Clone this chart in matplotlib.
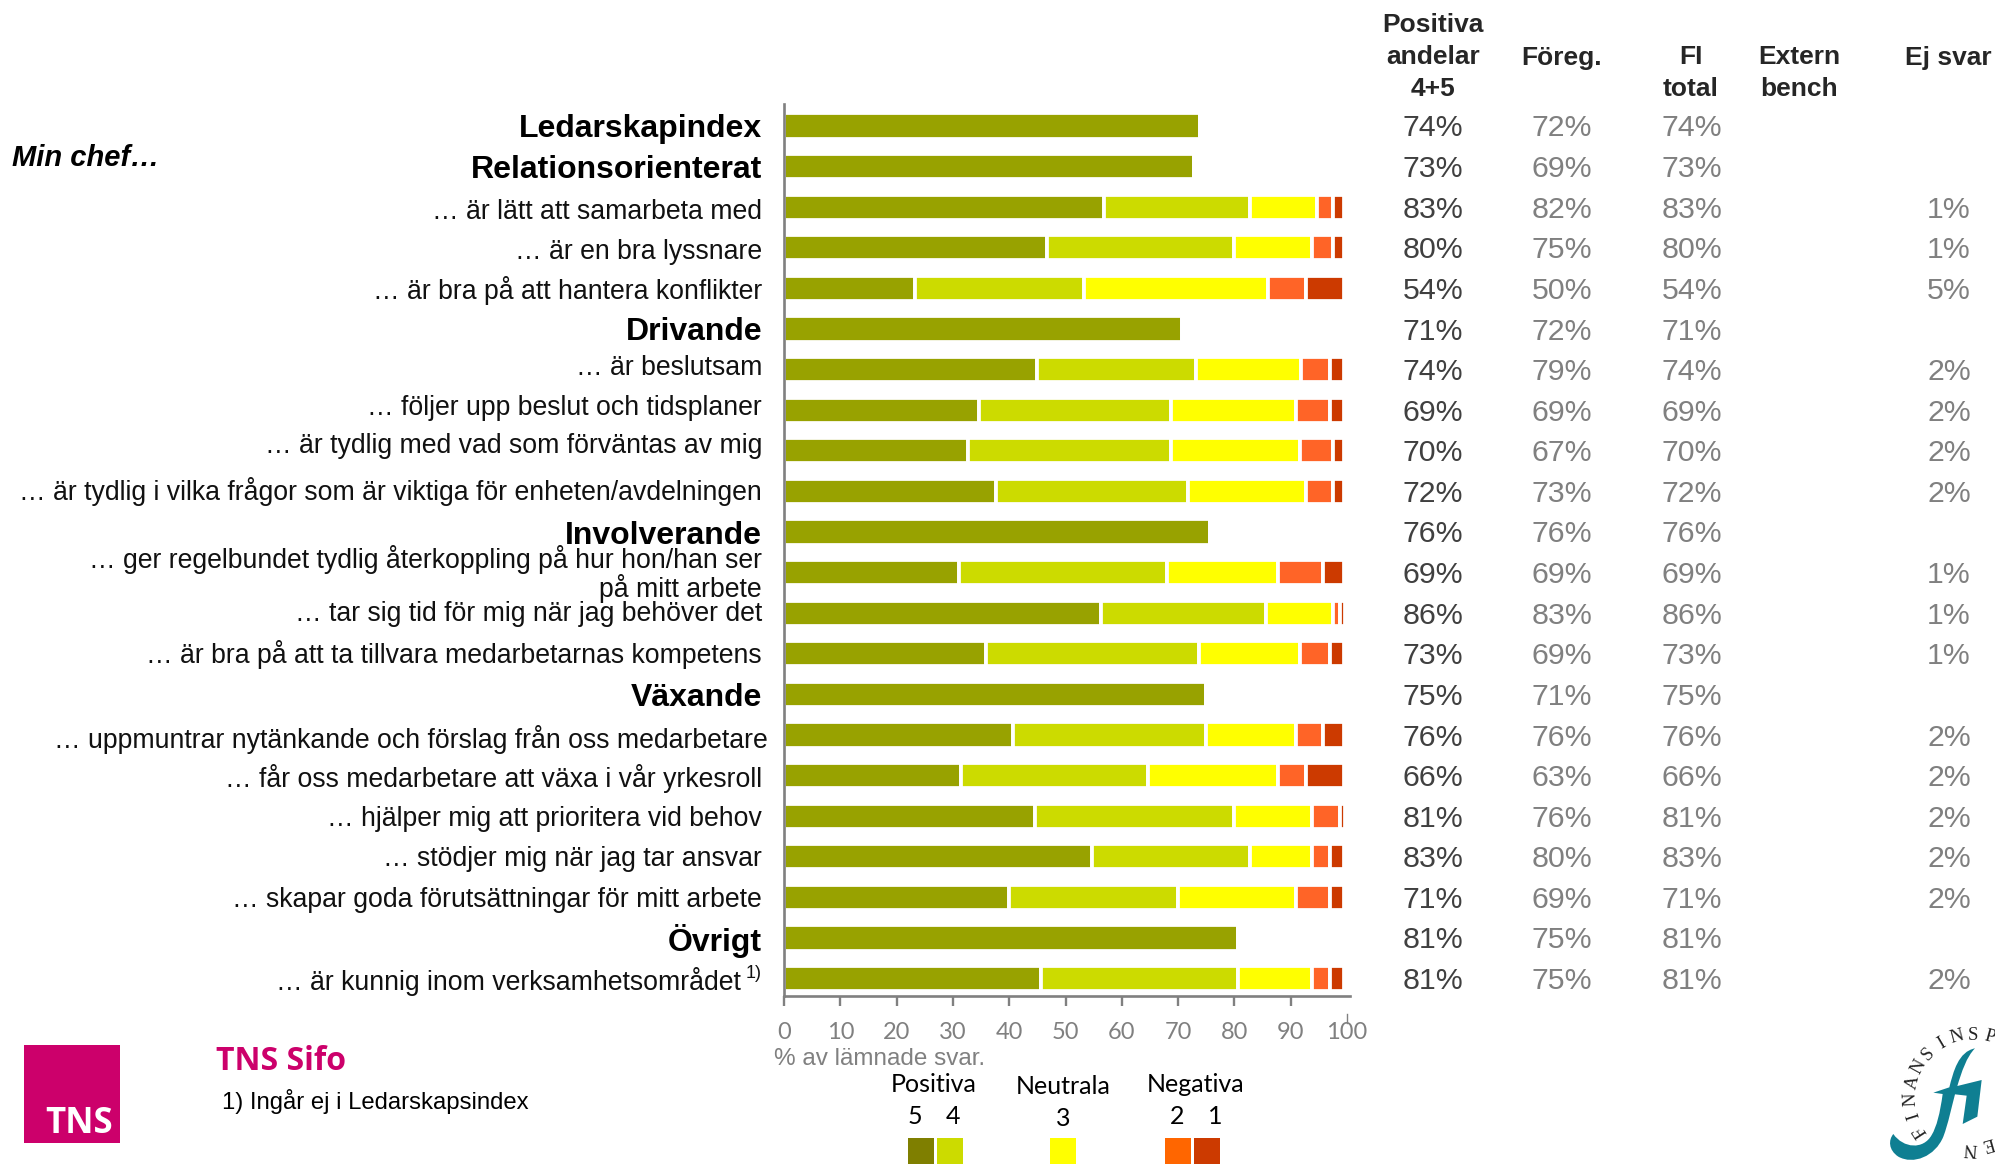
import matplotlib
matplotlib.use('Agg')
import matplotlib.pyplot as plt
import numpy as np
from matplotlib.patches import Rectangle, PathPatch
from matplotlib.path import Path

plt.rcParams['font.family'] = ['Liberation Sans', 'DejaVu Sans']

# rows, top to bottom
labels = ['Ledarskapindex', 'Relationsorienterat', '… är lätt att samarbeta med', '… är en bra lyssnare',
          '… är bra på att hantera konflikter', 'Drivande', '… är beslutsam', '… följer upp beslut och tidsplaner',
          '… är tydlig med vad som förväntas av mig', '… är tydlig i vilka frågor som är viktiga för enheten/avdelningen',
          'Involverande', '… ger regelbundet tydlig återkoppling på hur hon/han ser\npå mitt arbete',
          '… tar sig tid för mig när jag behöver det', '… är bra på att ta tillvara medarbetarnas kompetens',
          'Växande', '… uppmuntrar nytänkande och förslag från oss medarbetare',
          '… får oss medarbetare att växa i vår yrkesroll', '… hjälper mig att prioritera vid behov',
          '… stödjer mig när jag tar ansvar', '… skapar goda förutsättningar för mitt arbete',
          'Övrigt', '… är kunnig inom verksamhetsområdet']
headers = [0, 1, 5, 10, 14, 20]

s5 = [73.9, 72.8, 56.8, 46.8, 23.3, 70.7, 45.0, 34.7, 32.6, 37.6, 75.6, 31.1, 56.3, 35.8, 74.9, 40.7, 31.5, 44.6, 54.7, 40.0, 80.6, 45.7]
s4 = [0, 0, 25.9, 33.1, 29.9, 0, 28.1, 34.1, 36.2, 34.1, 0, 37.0, 29.3, 38.0, 0, 34.2, 33.1, 35.3, 28.0, 29.9, 0, 34.9]
s3 = [0, 0, 12.0, 13.8, 32.7, 0, 18.8, 22.1, 22.8, 21.0, 0, 19.6, 12.0, 17.8, 0, 16.0, 23.1, 13.8, 11.0, 21.0, 0, 13.1]
s2 = [0, 0, 2.9, 3.9, 6.8, 0, 5.0, 6.0, 6.0, 4.9, 0, 8.1, 1.1, 5.3, 0, 4.9, 5.0, 5.0, 3.2, 6.0, 0, 3.2]
s1 = [0, 0, 1.9, 1.9, 6.8, 0, 2.6, 2.6, 1.9, 1.9, 0, 3.7, 0.9, 2.6, 0, 3.7, 6.8, 0.9, 2.6, 2.6, 0, 2.6]

positiva = ['74%', '73%', '83%', '80%', '54%', '71%', '74%', '69%', '70%', '72%', '76%', '69%', '86%', '73%', '75%', '76%', '66%', '81%', '83%', '71%', '81%', '81%']
foreg = ['72%', '69%', '82%', '75%', '50%', '72%', '79%', '69%', '67%', '73%', '76%', '69%', '83%', '69%', '71%', '76%', '63%', '76%', '80%', '69%', '75%', '75%']
fi_total = ['74%', '73%', '83%', '80%', '54%', '71%', '74%', '69%', '70%', '72%', '76%', '69%', '86%', '73%', '75%', '76%', '66%', '81%', '83%', '71%', '81%', '81%']
ej_svar = ['', '', '1%', '1%', '5%', '', '2%', '2%', '2%', '2%', '', '1%', '1%', '1%', '', '2%', '2%', '2%', '2%', '2%', '', '2%']

colors = ['#98a200', '#ccdb00', '#ffff00', '#ff6427', '#cc3a00']
legend_colors = ['#7f7f00', '#ccdb00', '#ffff00', '#ff6600', '#cc3a00']
GRAY = '#808080'

W, H = 1995, 1164
fig = plt.figure(figsize=(W / 100, H / 100), dpi=100)

# overlay in pixel coordinates for all the text around the chart
ov = fig.add_axes([0, 0, 1, 1])
ov.set_xlim(0, W)
ov.set_ylim(H, 0)
ov.axis('off')

# chart axes
x0, x1 = 784, 1350
top, bottom = 104, 996
row0, step = 126, 40.6
ax = fig.add_axes([x0 / W, 1 - bottom / H, (x1 - x0) / W, (bottom - top) / H])
ax.patch.set_alpha(0)
ax.set_xlim(0, 100 * (x1 - x0) / (1347 - x0))
ax.set_ylim((bottom - row0) / step, (top - row0) / step)

y = np.arange(len(labels))
left = np.zeros(len(labels))
for vals, c in zip([s5, s4, s3, s2, s1], colors):
    vals = np.array(vals)
    ax.barh(y, vals, left=left, height=0.62, color=c, edgecolor='white', linewidth=2.7)
    left += vals

for side in ['top', 'right']:
    ax.spines[side].set_visible(False)
for side in ['left', 'bottom']:
    ax.spines[side].set_color(GRAY)
    ax.spines[side].set_linewidth(1.9)
    ax.spines[side].set_zorder(5)
ax.set_yticks([])
ax.set_xticks(range(0, 101, 10))
ax.tick_params(axis='x', length=7.5, width=1.7, color=GRAY, labelcolor=GRAY, labelsize=17, pad=11)
for t in ax.get_xticklabels():
    t.set_family('Lato')
ax.xaxis.get_major_ticks()[-1].tick1line.set_visible(False)
ov.plot([1347, 1347], [1014, 1023], color=GRAY, lw=1)

ov.text(774, 1059, '% av lämnade svar.', color=GRAY, fontsize=17.5, ha='left', va='center')

# row labels
label_nudge = [1, 1, 3, 3, 1, 1, -3, -4, -6, -1, 1, 0, -1, -1, 1, 3, 1, 1, 1, 1, 1, 1]
for i, lab in enumerate(labels):
    yy = row0 + step * i + label_nudge[i]
    xr = 768 if i == 15 else 762
    if i == 21:
        xr = 741
    if i in headers:
        ov.text(xr, yy + 2.5, lab, ha='right', va='center', fontsize=23, fontweight='bold', color='black')
    else:
        ov.text(xr, yy + 1.5, lab, ha='right', va='center', fontsize=19.2, color='#111111', multialignment='right', linespacing=1.0)
ov.text(746, row0 + step * 21 - 5, '1)', ha='left', va='center', fontsize=13, color='#111111')
ov.text(12, 158, 'Min chef…', ha='left', va='center', fontsize=21, fontweight='bold', fontstyle='italic')

# table
col_x = [1433, 1562, 1692, 1949]
for i in range(len(labels)):
    yy = row0 + step * i + 2.5
    ov.text(col_x[0], yy, positiva[i], ha='center', va='center', fontsize=21.8, color='#404040')
    ov.text(col_x[1], yy, foreg[i], ha='center', va='center', fontsize=21.8, color=GRAY)
    ov.text(col_x[2], yy, fi_total[i], ha='center', va='center', fontsize=21.8, color=GRAY)
    ov.text(col_x[3], yy, ej_svar[i], ha='center', va='center', fontsize=21.8, color=GRAY)

head_kw = dict(ha='center', va='center', fontsize=19, fontweight='bold', color='#262626')
for txt, yy in zip(['Positiva', 'andelar', '4+5'], [25.5, 57.5, 89.5]):
    ov.text(1433, yy, txt, **head_kw)
ov.text(1562, 57.5, 'Föreg.', **head_kw)
ov.text(1691, 57.5, 'FI', **head_kw)
ov.text(1691, 89.5, 'total', **head_kw)
ov.text(1799, 57.5, 'Extern', **head_kw)
ov.text(1799, 89.5, 'bench', **head_kw)
ov.text(1948, 57.5, 'Ej svar', **head_kw)

# colour key
key_kw = dict(ha='center', va='center', fontsize=18, family='Lato', color='black')
ov.text(934, 1085, 'Positiva', **key_kw)
ov.text(1063, 1087, 'Neutrala', **key_kw)
ov.text(1196, 1085, 'Negativa', **key_kw)
for txt, xx, yy in zip(['5', '4', '3', '2', '1'], [915, 953, 1063, 1177, 1215], [1117, 1117, 1118, 1117, 1117]):
    ov.text(xx, yy, txt, **key_kw)
for c, xx in zip(legend_colors, [908, 937, 1050, 1165, 1194]):
    ov.add_patch(Rectangle((xx, 1138), 26, 26, color=c, lw=0))

# TNS logo
MAGENTA = '#cc006b'
ov.add_patch(Rectangle((24, 1045), 95.5, 98, color=MAGENTA, lw=0))
ov.text(113, 1124, 'TNS', color='white', ha='right', va='center', fontsize=25, family='Open Sans', fontweight='bold')
ov.text(216, 1061, 'TNS Sifo', color=MAGENTA, ha='left', va='center', fontsize=23, family='Open Sans', fontweight='bold')
ov.text(222, 1102, '1) Ingår ej i Ledarskapsindex', ha='left', va='center', fontsize=17.2, color='black')

# Finansinspektionen logo
cx, cy, r = 1973, 1097, 62
fi_letters = list('FINANSINSP')
fi_angles = [237, 252.4, 267.8, 283.2, 298.6, 314, 329.4, 344.8, 360, 15.4]
for ch, ang in zip(fi_letters, fi_angles):
    a = np.radians(ang)
    ov.text(cx + r * np.sin(a), cy - r * np.cos(a), ch, rotation=-ang, rotation_mode='anchor',
            ha='center', va='center', fontsize=13.5, family='Liberation Serif', color='#222222')
ov.text(1988, 1143, 'E', rotation=-164, rotation_mode='anchor', ha='center', va='center',
        fontsize=13.5, family='Liberation Serif', color='#222222')
ov.text(1970, 1148, 'N', rotation=-184, rotation_mode='anchor', ha='center', va='center',
        fontsize=13.5, family='Liberation Serif', color='#222222')

pts = [(405, 145), (355, 155), (340, 215), (328, 262), (280, 278), (308, 282),
       (300, 340), (290, 380), (275, 405), (250, 450), (190, 445), (160, 402),
       (145, 420), (145, 450), (175, 470), (220, 495), (285, 470), (310, 410),
       (325, 370), (335, 320), (345, 283), (380, 287), (368, 372), (412, 350),
       (425, 240), (352, 258), (365, 215), (380, 170), (405, 145), (405, 145)]
codes = [Path.MOVETO, Path.CURVE4, Path.CURVE4, Path.CURVE4, Path.LINETO, Path.LINETO,
         Path.CURVE4, Path.CURVE4, Path.CURVE4, Path.CURVE4, Path.CURVE4, Path.CURVE4,
         Path.CURVE4, Path.CURVE4, Path.CURVE4, Path.CURVE4, Path.CURVE4, Path.CURVE4,
         Path.CURVE4, Path.CURVE4, Path.CURVE4, Path.LINETO, Path.LINETO, Path.LINETO,
         Path.LINETO, Path.LINETO, Path.CURVE4, Path.CURVE4, Path.CURVE4, Path.CLOSEPOLY]
pts = [(1840 + px / 3, 1000 + py / 3) for px, py in pts]
ov.add_patch(PathPatch(Path(pts, codes), facecolor='#0f7f92', edgecolor='none'))

fig.savefig('out.png', dpi=100)
